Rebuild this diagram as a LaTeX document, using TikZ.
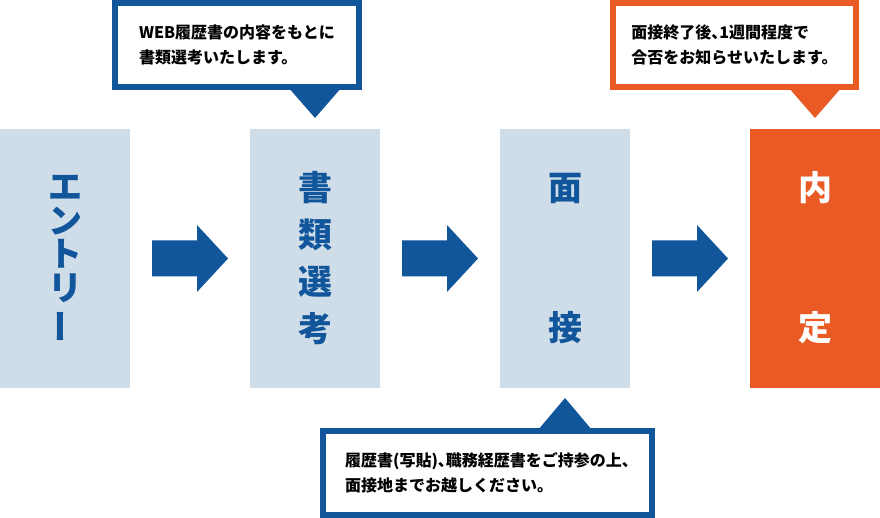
\documentclass[tikz,border=0pt]{standalone}
\usepackage{fontspec}
\setmainfont{Noto Sans CJK JP}
\usetikzlibrary{calc}
\definecolor{mblue}{HTML}{11559B}
\definecolor{mlight}{HTML}{CFDDE9}
\definecolor{morange}{HTML}{EA5A24}
\newcommand\hcomma{{\addfontfeature{RawFeature=+halt}、}}
\begin{document}
\begin{tikzpicture}[x=1pt,y=-1pt,
  col/.style={fill=#1, draw=none, minimum width=130pt, minimum height=259pt, inner sep=0pt, outer sep=0pt, anchor=north west},
  bigch/.style={text=#1, font=\bfseries\fontsize{34pt}{34pt}\selectfont, inner sep=0pt},
  cbox/.style={draw=#1, line width=6pt, fill=white, anchor=north west, inner sep=0pt, align=left,
    font=\bfseries\fontsize{16pt}{25pt}\selectfont},
  blockarrow/.pic={\fill[mblue] (0,-18) -- (45,-18) -- (45,-33.5) -- (76,0) -- (45,33.5) -- (45,18) -- (0,18) -- cycle;}
]
\useasboundingbox (0,0) rectangle (880,518);
% columns
\node[col=mlight] (c1) at (0,129) {};
\node[col=mlight] (c2) at (250,129) {};
\node[col=mlight] (c3) at (500,129) {};
\node[col=morange] (c4) at (750,129) {};
% column 1 text
\node[bigch=mblue] (e1) at (65,187) {エ};
\node[bigch=mblue] (e2) at (65,221) {ン};
\node[bigch=mblue] (e3) at (65,254) {ト};
\node[bigch=mblue] (e4) at (65,288) {リ};
\node[bigch=mblue] (e5) at (65,326) {\rotatebox[origin=c]{90}{ー}};
% column 2 text
\node[bigch=mblue] (s1) at (315,188) {書};
\node[bigch=mblue] (s2) at (315,235) {類};
\node[bigch=mblue] (s3) at (315,282) {選};
\node[bigch=mblue] (s4) at (315,329) {考};
% column 3 text
\node[bigch=mblue] (m1) at (565,188) {面};
\node[bigch=mblue] (m2) at (565,328) {接};
% column 4 text
\node[bigch=white] (n1) at (815,188) {内};
\node[bigch=white] (n2) at (815,328) {定};
% arrows
\pic at ($(c1.east)+(22,0)$) {blockarrow};
\pic at ($(c2.east)+(22,0)$) {blockarrow};
\pic at ($(c3.east)+(22,0)$) {blockarrow};
% callouts
\fill[mblue] ($(c2.north)+(0,-11)$) -- ++(-27,-31) -- ++(54,0) -- cycle;
\node[cbox=mblue, minimum width=244pt, minimum height=84pt] (t1) at (112,0)
  {WEB履歴書の内容をもとに\\書類選考いたします。};
\fill[morange] ($(c4.north)+(0,-11)$) -- ++(-27,-31) -- ++(54,0) -- cycle;
\node[cbox=morange, minimum width=243pt, minimum height=84pt] (t2) at (610,0)
  {面接終了後\hcomma 1週間程度で\\合否をお知らせいたします。};
\fill[mblue] ($(c3.south)+(0,10)$) -- ++(-27,32) -- ++(54,0) -- cycle;
\node[cbox=mblue, minimum width=329pt, minimum height=84pt] (t3) at (320,428)
  {履歴書(写貼)\hcomma 職務経歴書をご持参の上\hcomma\\面接地までお越しください。};
\end{tikzpicture}
\end{document}
